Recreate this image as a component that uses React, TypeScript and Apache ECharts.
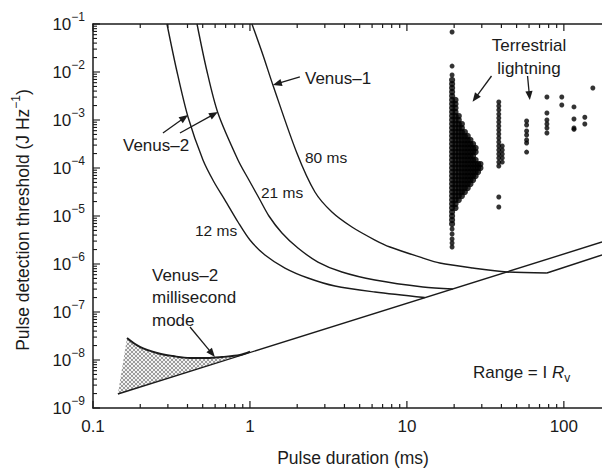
import React, { useEffect, useRef } from 'react';
import * as echarts from 'echarts';

const FONT = "'Liberation Sans', Arial, Helvetica, sans-serif";
const INK = '#1b1b1b';

// axis ranges
const xRange = [0.1, 175];
const yRange = [1e-9, 1e-1];

// ticks
const xMajorTicks = [0.1, 1, 10, 100];
const xMinorTicks = [0.2, 0.3, 0.4, 0.5, 0.6, 0.7, 0.8, 0.9, 2, 3, 4, 5, 6, 7, 8, 9, 20, 30, 40, 50, 60, 70, 80, 90];
const yDecades = [-9, -8, -7, -6, -5, -4, -3, -2, -1];
const yMinorMantissas = [2, 3, 4, 5, 6, 7, 8, 9];

// curves [pulse duration (ms), threshold (J/Hz)]
const venus2_12ms: [number, number][] = [
  [0.296, 0.1], [0.341, 0.011], [0.403, 1.155e-3], [0.502, 1.47e-4], [0.59, 5.11e-5], [0.693, 2.15e-5],
  [0.839, 7.5e-6], [1.0, 3.16e-6], [1.246, 1.54e-6], [1.671, 8.25e-7], [2.342, 5.11e-7],
  [3.478, 3.48e-7], [6.257, 2.61e-7], [13.0, 2.0e-7],
];
const venus2_21ms: [number, number][] = [
  [0.46, 0.1], [0.53, 0.011], [0.625, 1.4e-3], [0.839, 1.47e-4], [0.985, 5.62e-5], [1.141, 2.37e-5],
  [1.321, 1.0e-5], [1.599, 4.43e-6], [2.021, 2.15e-6], [2.711, 1.1e-6], [3.855, 6.81e-7],
  [6.257, 4.64e-7], [12.65, 3.32e-7], [19.6, 3.01e-7],
];
const venus1_80ms: [number, number][] = [
  [1.03, 0.1], [1.21, 0.0226], [1.4, 5.36e-3], [1.99, 2.05e-4], [2.594, 3.16e-5], [3.329, 1.21e-5],
  [4.463, 5.9e-6], [6.257, 3.16e-6], [7.8, 2.26e-6], [12.65, 1.33e-6], [16.2, 1.05e-6],
  [26.3, 8.25e-7], [43.4, 6.81e-7], [78, 6.49e-7],
];
const venus1Ramp: [number, number][] = [[78, 6.49e-7], [175, 1.54e-6]];
const rangeLine: [number, number][] = [[0.144, 1.96e-9], [175, 2.87e-6]];
const msModeUpper: [number, number][] = [
  [0.1647, 2.87e-8], [0.199, 1.87e-8], [0.256, 1.4e-8], [0.323, 1.21e-8], [0.415, 1.1e-8],
  [0.532, 1.1e-8], [0.664, 1.155e-8], [0.863, 1.27e-8], [1.0, 1.49e-8],
];
const msModeLower: [number, number][] = [[1.0, 1.49e-8], [0.144, 1.96e-9]];

// terrestrial lightning
const clusterBins = [19.4, 20.4, 21.4, 22.4, 23.4, 24.4, 25.4, 26.4, 27.4, 28.4, 29.4];
// [threshold, number of duration bins filled]
const clusterRows: [number, number][] = [
  [6.81e-3, 1], [5.62e-3, 1], [4.64e-3, 1], [3.83e-3, 1],
  [3.16e-3, 1], [2.61e-3, 2], [2.15e-3, 2], [1.78e-3, 2], [1.47e-3, 2], [1.21e-3, 3], [1.0e-3, 3],
  [8.25e-4, 4], [6.81e-4, 4], [5.62e-4, 5], [4.64e-4, 6], [3.83e-4, 7], [3.16e-4, 8], [2.61e-4, 9],
  [2.15e-4, 9], [1.78e-4, 8], [1.47e-4, 9], [1.21e-4, 11], [1.0e-4, 11], [8.25e-5, 10], [6.81e-5, 9],
  [5.62e-5, 8], [4.64e-5, 7], [3.83e-5, 6], [3.16e-5, 5], [2.61e-5, 4], [2.15e-5, 3], [1.78e-5, 2],
  [1.47e-5, 2], [1.21e-5, 1], [1.0e-5, 1], [8.25e-6, 1], [6.81e-6, 1],
];
const lightningColumns: { x: number; ys: number[] }[] = [
  { x: 19.4, ys: [0.068, 0.0133, 8.66e-3, 5.36e-6, 4.22e-6, 3.32e-6, 2.74e-6, 2.26e-6] },
  { x: 38.5, ys: [2.37e-3, 1.96e-3, 1.62e-3, 1.33e-3, 1.1e-3, 9.09e-4, 7.5e-4, 6.19e-4, 5.11e-4, 4.22e-4, 3.48e-4, 2.87e-4, 2.37e-4, 1.96e-4, 1.62e-4, 1.33e-4, 1.1e-4, 2.49e-5, 1.54e-5] },
  { x: 40.5, ys: [2.87e-4, 2.37e-4, 1.96e-4, 1.62e-4, 1.33e-4] },
  { x: 57.9, ys: [9.53e-4, 7.87e-4, 5.9e-4, 4.87e-4, 3.83e-4, 3.32e-4, 2.15e-4] },
  { x: 78, ys: [3.01e-3, 1.4e-3, 1.0e-3, 8.25e-4, 6.81e-4, 5.36e-4] },
  { x: 97, ys: [3.01e-3, 2.05e-3] },
  { x: 116, ys: [1.87e-3, 1.05e-3, 6.81e-4, 6.4e-4] },
  { x: 136, ys: [1.14e-3, 8.25e-4] },
  { x: 153, ys: [4.64e-3] },
];

// arrows [x1, y1, x2(tip), y2(tip)]
const arrows: [number, number, number, number][] = [
  [2.08, 7.87e-3, 1.4, 5.36e-3],
  [0.279, 5.36e-4, 0.403, 1.27e-3],
  [0.358, 5.36e-4, 0.625, 1.47e-3],
  [0.415, 4.87e-8, 0.598, 1.155e-8],
  [34.6, 8.25e-3, 26.2, 2.4e-3],
  [58.7, 8.25e-3, 60.7, 2.61e-3],
];

function isDecade(v: number) {
  const l = Math.log10(v);
  return Math.abs(l - Math.round(l)) < 1e-6;
}

export default function App() {
  const ref = useRef<HTMLDivElement>(null);
  useEffect(() => {
    if (!ref.current) return;
    const chart = echarts.init(ref.current, undefined, { renderer: 'svg' });

    const clusterData: [number, number][] = [];
    clusterRows.forEach(([y, n]) => {
      for (let i = 0; i < n; i++) clusterData.push([clusterBins[i], y]);
    });
    const columnData: [number, number][] = [];
    lightningColumns.forEach((c) => c.ys.forEach((y) => columnData.push([c.x, y])));

    const xTickData: [number, number, number][] = [
      ...xMajorTicks.map((v) => [v, 1e-5, 7] as [number, number, number]),
      ...xMinorTicks.map((v) => [v, 1e-5, 4] as [number, number, number]),
    ];
    const yTickData: [number, number, number][] = [];
    yDecades.forEach((d) => {
      yTickData.push([1, Math.pow(10, d), 7]);
      if (d < -1) yMinorMantissas.forEach((m) => yTickData.push([1, m * Math.pow(10, d), 4]));
    });

    // hatch pattern
    const pc = document.createElement('canvas');
    pc.width = 4;
    pc.height = 4;
    const ctx = pc.getContext('2d')!;
    ctx.fillStyle = '#f2f2f2';
    ctx.fillRect(0, 0, 4, 4);
    ctx.fillStyle = '#9c9c9c';
    for (let i = 0; i < 4; i++) {
      ctx.fillRect(i, i, 1, 1);
      ctx.fillRect(3 - i, i, 1, 1);
    }

    const lineBase = {
      type: 'line',
      showSymbol: false,
      symbol: 'none',
      silent: true,
      lineStyle: { color: INK, width: 1.4 },
      z: 3,
    };

    const axisCommon = {
      type: 'log',
      logBase: 10,
      splitLine: { show: false },
      axisTick: { show: false },
      minorTick: { show: false },
      axisLine: { show: true, lineStyle: { color: INK, width: 1.5 } },
    };

    chart.setOption({
      animation: false,
      backgroundColor: '#ffffff',
      grid: { left: 93, right: 0, top: 24, bottom: 63, outerBoundsMode: 'none' },
      xAxis: [
        {
          ...axisCommon,
          min: xRange[0],
          max: xRange[1],
          position: 'bottom',
          axisLabel: {
            margin: 10,
            color: INK,
            fontFamily: FONT,
            fontSize: 17,
            formatter: (v: number) => (isDecade(v) && v < 150 ? String(Number(v.toPrecision(3))) : ''),
          },
        },
        {
          ...axisCommon,
          min: xRange[0],
          max: xRange[1],
          position: 'top',
          axisLabel: { show: false },
        },
      ],
      yAxis: {
        ...axisCommon,
        min: yRange[0],
        max: yRange[1],
        axisLabel: {
          margin: 8,
          color: INK,
          fontFamily: FONT,
          formatter: (v: number) => {
            const n = Math.round(Math.log10(v));
            return `{b|10}{s|${n < 0 ? '\u2212' : ''}${Math.abs(n)}}`;
          },
          rich: {
            b: { fontSize: 17, fontFamily: FONT, color: INK, lineHeight: 26 },
            s: { fontSize: 12, fontFamily: FONT, color: INK, lineHeight: 12, verticalAlign: 'top' },
          },
        },
      },
      series: [
        {
          type: 'custom',
          silent: true,
          z: 1,
          data: [[0.3, 1e-8]],
          renderItem: (params: any, api: any) => {
            const pts = [...msModeUpper, ...msModeLower].map((p) => api.coord(p));
            return {
              type: 'polygon',
              shape: { points: pts },
              style: { fill: { image: pc, repeat: 'repeat' }, stroke: 'none' },
            };
          },
        },
        { ...lineBase, name: 'Venus-2 12 ms', data: venus2_12ms, smooth: 0.3 },
        { ...lineBase, name: 'Venus-2 21 ms', data: venus2_21ms, smooth: 0.3 },
        { ...lineBase, name: 'Venus-1 80 ms', data: venus1_80ms, smooth: 0.3 },
        { ...lineBase, name: 'Venus-1 ramp', data: venus1Ramp },
        { ...lineBase, name: 'Range line', data: rangeLine },
        { ...lineBase, name: 'ms mode', data: msModeUpper, smooth: 0.35, lineStyle: { color: INK, width: 1.9 } },
        {
          type: 'scatter',
          name: 'Terrestrial lightning (dense)',
          silent: true,
          symbol: 'circle',
          symbolSize: 6.2,
          itemStyle: { color: '#000' },
          data: clusterData,
          z: 4,
        },
        {
          type: 'scatter',
          name: 'Terrestrial lightning',
          silent: true,
          symbol: 'circle',
          symbolSize: 5,
          itemStyle: { color: '#000' },
          data: columnData,
          z: 4,
        },
        {
          type: 'custom',
          silent: true,
          z: 5,
          data: xTickData,
          encode: { x: 0, y: 1 },
          renderItem: (params: any, api: any) => {
            const cs = params.coordSys;
            const x = api.coord([api.value(0), api.value(1)])[0];
            const len = api.value(2);
            const b = cs.y + cs.height;
            return {
              type: 'group',
              children: [
                { type: 'line', shape: { x1: x, y1: b, x2: x, y2: b - len }, style: { stroke: INK, lineWidth: 1.2 } },
                { type: 'line', shape: { x1: x, y1: cs.y, x2: x, y2: cs.y + len }, style: { stroke: INK, lineWidth: 1.2 } },
              ],
            };
          },
        },
        {
          type: 'custom',
          silent: true,
          z: 5,
          data: yTickData,
          encode: { x: 0, y: 1 },
          renderItem: (params: any, api: any) => {
            const cs = params.coordSys;
            const y = api.coord([api.value(0), api.value(1)])[1];
            const len = api.value(2);
            return {
              type: 'line',
              shape: { x1: cs.x, y1: y, x2: cs.x + len, y2: y },
              style: { stroke: INK, lineWidth: 1.1 },
            };
          },
        },
        {
          type: 'custom',
          silent: true,
          z: 6,
          data: arrows,
          encode: { x: [0, 2], y: [1, 3] },
          renderItem: (params: any, api: any) => {
            const p1 = api.coord([api.value(0), api.value(1)]);
            const p2 = api.coord([api.value(2), api.value(3)]);
            const dx = p2[0] - p1[0];
            const dy = p2[1] - p1[1];
            const L = Math.sqrt(dx * dx + dy * dy) || 1;
            const ux = dx / L;
            const uy = dy / L;
            const hl = 9;
            const hw = 3.6;
            const bx = p2[0] - ux * hl;
            const by = p2[1] - uy * hl;
            return {
              type: 'group',
              children: [
                { type: 'line', shape: { x1: p1[0], y1: p1[1], x2: bx + ux * 1, y2: by + uy * 1 }, style: { stroke: INK, lineWidth: 1.3 } },
                {
                  type: 'polygon',
                  shape: { points: [[p2[0], p2[1]], [bx - uy * hw, by + ux * hw], [bx + uy * hw, by - ux * hw]] },
                  style: { fill: INK, stroke: 'none' },
                },
              ],
            };
          },
        },
      ],
      graphic: [
        { type: 'text', x: 305, y: 78, style: { text: 'Venus\u20131', font: `17px ${FONT}`, fill: INK, textAlign: 'left', textVerticalAlign: 'middle' } },
        { type: 'text', x: 123, y: 145, style: { text: 'Venus\u20132', font: `17px ${FONT}`, fill: INK, textAlign: 'left', textVerticalAlign: 'middle' } },
        { type: 'text', x: 305, y: 157, style: { text: '80 ms', font: `15.5px ${FONT}`, fill: INK, textAlign: 'left', textVerticalAlign: 'middle' } },
        { type: 'text', x: 261, y: 192, style: { text: '21 ms', font: `15.5px ${FONT}`, fill: INK, textAlign: 'left', textVerticalAlign: 'middle' } },
        { type: 'text', x: 195, y: 230, style: { text: '12 ms', font: `15.5px ${FONT}`, fill: INK, textAlign: 'left', textVerticalAlign: 'middle' } },
        {
          type: 'text', x: 152, y: 264,
          style: { text: 'Venus\u20132\nmillisecond\nmode', font: `17px ${FONT}`, lineHeight: 22.5, fill: INK, textAlign: 'left', textVerticalAlign: 'top' },
        },
        {
          type: 'text', x: 529, y: 33.5,
          style: { text: 'Terrestrial\nlightning', font: `17px ${FONT}`, lineHeight: 23, fill: INK, textAlign: 'center', textVerticalAlign: 'top' },
        },
        {
          type: 'text', x: 473, y: 372,
          style: {
            text: 'Range = I {i|R}{sub|v}',
            font: `17px ${FONT}`,
            fontSize: 17,
            fontFamily: FONT,
            lineHeight: 24,
            fill: INK,
            textAlign: 'left',
            textVerticalAlign: 'middle',
            rich: {
              i: { fontSize: 17, fontFamily: FONT, fontStyle: 'italic', lineHeight: 24, fill: INK },
              sub: { fontSize: 12, fontFamily: FONT, lineHeight: 12, verticalAlign: 'bottom', fill: INK },
            },
          },
        },
        {
          type: 'text', x: 353, y: 458,
          style: { text: 'Pulse duration (ms)', font: `17.5px ${FONT}`, fill: INK, textAlign: 'center', textVerticalAlign: 'middle' },
        },
        {
          type: 'text', x: 23, y: 220, rotation: Math.PI / 2,
          style: {
            text: 'Pulse detection threshold (J Hz{s|\u22121})',
            font: `17.5px ${FONT}`,
            fontSize: 17.5,
            fontFamily: FONT,
            lineHeight: 26,
            fill: INK,
            textAlign: 'center',
            textVerticalAlign: 'middle',
            rich: {
              s: { fontSize: 12, fontFamily: FONT, lineHeight: 12, verticalAlign: 'top', fill: INK },
            },
          },
        },
      ],
    });

    return () => chart.dispose();
  }, []);

  return <div ref={ref} style={{ position: 'fixed', left: 0, top: 0, width: 602, height: 471, background: '#fff' }} />;
}
